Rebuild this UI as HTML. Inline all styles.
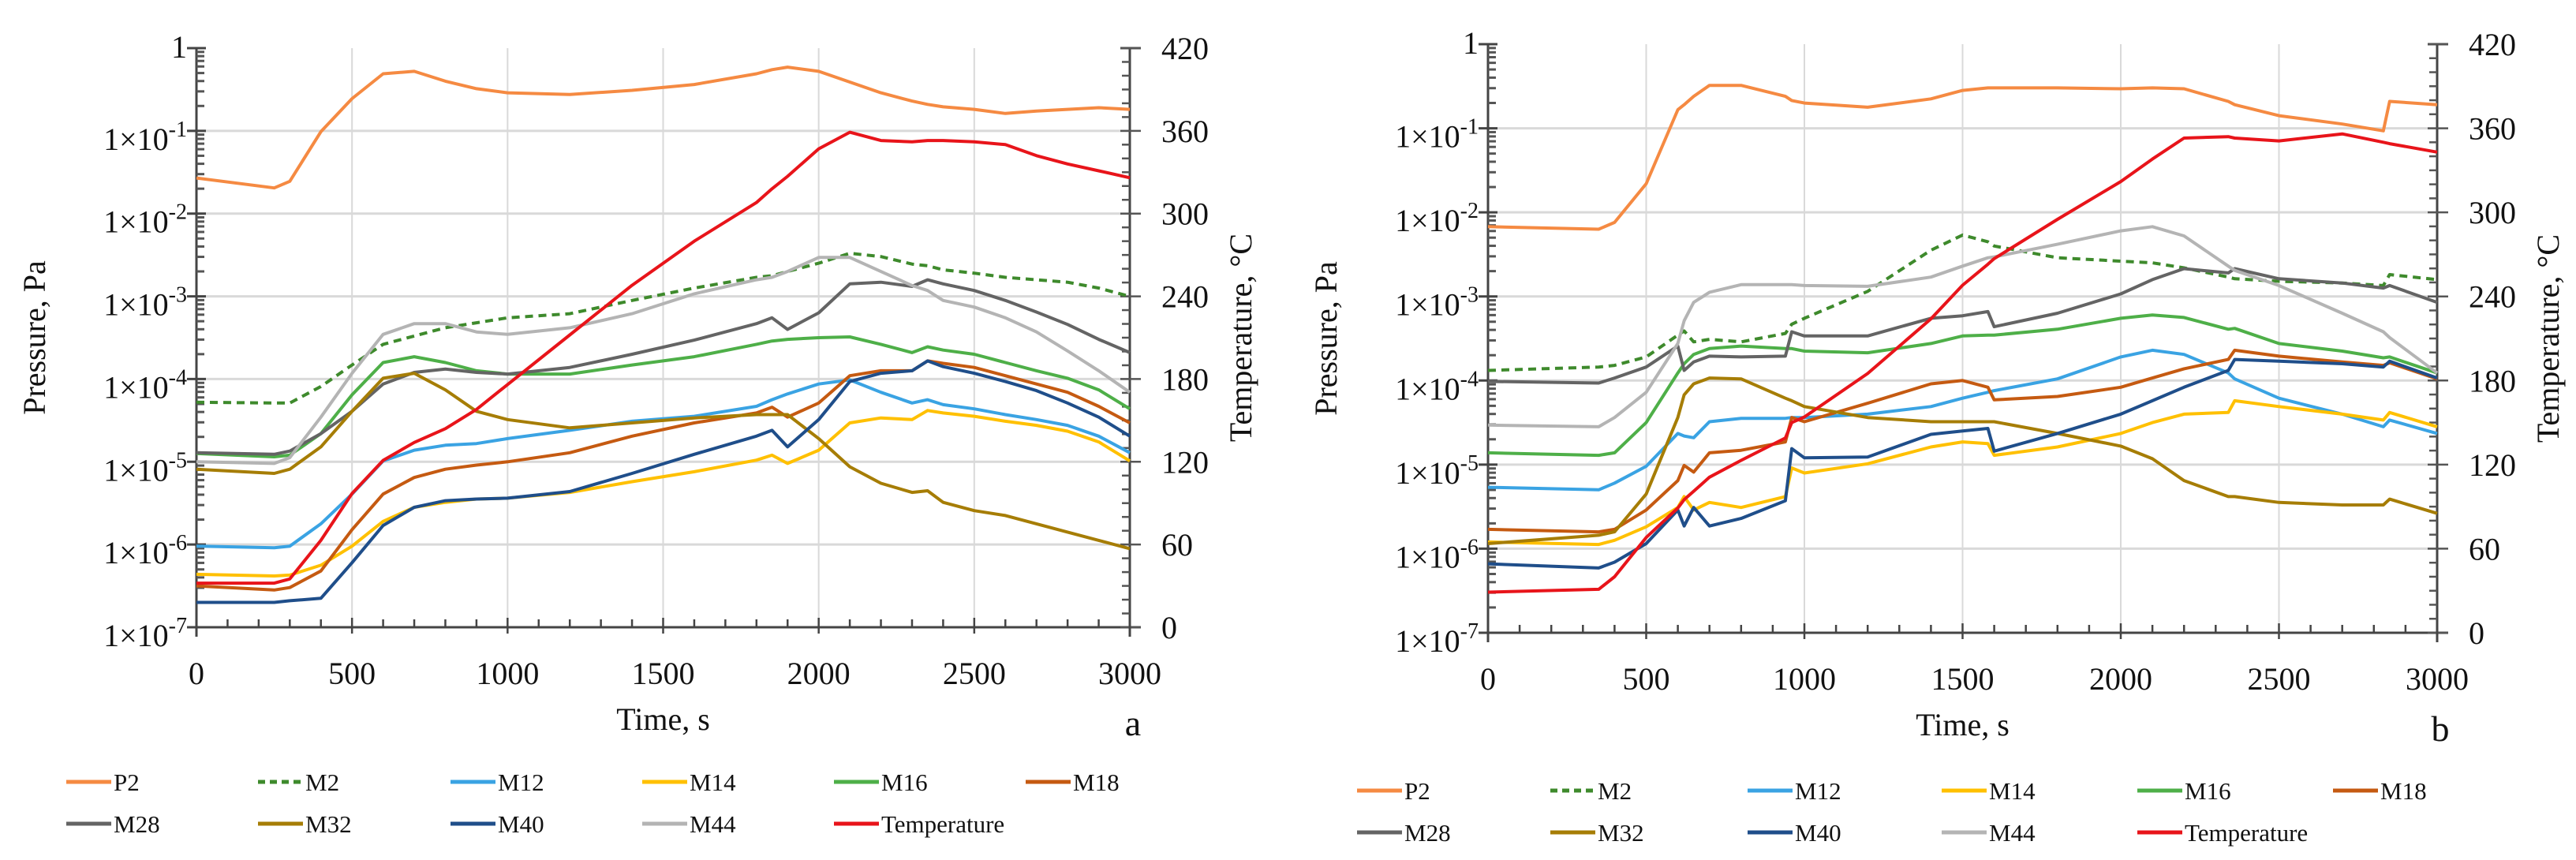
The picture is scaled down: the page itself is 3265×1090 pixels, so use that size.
<!DOCTYPE html>
<html><head><meta charset="utf-8"><style>
html,body{margin:0;padding:0;background:#fff;}
svg{display:block;font-family:"Liberation Serif",serif;}
</style></head><body>
<svg id="chart" width="3265" height="1090" viewBox="0 0 3265 1090" xmlns="http://www.w3.org/2000/svg"></svg>
<script>
// ---------- data: panel a ----------
const timeA = [0,250,300,400,500,600,700,800,900,1000,1200,1400,1600,1800,1850,1900,2000,2100,2200,2300,2350,2400,2500,2600,2700,2800,2900,3000];
const a_P2  = [-1.57,-1.69,-1.61,-1.01,-0.61,-0.31,-0.28,-0.40,-0.49,-0.54,-0.56,-0.51,-0.44,-0.31,-0.26,-0.23,-0.28,-0.41,-0.54,-0.64,-0.68,-0.71,-0.74,-0.79,-0.76,-0.74,-0.72,-0.74];
const a_M2  = [-4.28,-4.29,-4.29,-4.09,-3.83,-3.58,-3.48,-3.38,-3.32,-3.26,-3.21,-3.05,-2.90,-2.77,-2.75,-2.70,-2.60,-2.48,-2.52,-2.61,-2.63,-2.68,-2.72,-2.77,-2.80,-2.83,-2.90,-3.00];
const a_M12 = [-6.02,-6.04,-6.02,-5.75,-5.39,-4.99,-4.86,-4.80,-4.78,-4.72,-4.62,-4.51,-4.45,-4.33,-4.25,-4.18,-4.06,-4.01,-4.16,-4.29,-4.25,-4.31,-4.36,-4.43,-4.49,-4.56,-4.69,-4.89];
const a_M14 = [-6.36,-6.38,-6.37,-6.25,-6.02,-5.72,-5.55,-5.49,-5.45,-5.44,-5.37,-5.24,-5.12,-4.98,-4.92,-5.02,-4.86,-4.53,-4.47,-4.49,-4.38,-4.41,-4.45,-4.51,-4.56,-4.63,-4.76,-4.99];
const a_M16 = [-4.90,-4.94,-4.92,-4.66,-4.19,-3.80,-3.73,-3.80,-3.90,-3.94,-3.94,-3.83,-3.73,-3.58,-3.54,-3.52,-3.50,-3.49,-3.58,-3.68,-3.61,-3.65,-3.70,-3.80,-3.90,-3.99,-4.13,-4.36];
const a_M18 = [-6.50,-6.55,-6.52,-6.32,-5.82,-5.39,-5.19,-5.09,-5.04,-5.00,-4.89,-4.69,-4.53,-4.41,-4.34,-4.46,-4.29,-3.96,-3.90,-3.90,-3.78,-3.81,-3.86,-3.96,-4.06,-4.16,-4.33,-4.53];
const a_M28 = [-4.89,-4.91,-4.87,-4.66,-4.39,-4.06,-3.92,-3.88,-3.92,-3.94,-3.86,-3.70,-3.53,-3.33,-3.26,-3.40,-3.20,-2.85,-2.83,-2.88,-2.80,-2.85,-2.93,-3.05,-3.19,-3.34,-3.52,-3.68];
const a_M32 = [-5.09,-5.14,-5.09,-4.82,-4.39,-3.99,-3.93,-4.13,-4.39,-4.49,-4.59,-4.53,-4.47,-4.43,-4.43,-4.43,-4.72,-5.06,-5.26,-5.37,-5.35,-5.49,-5.59,-5.65,-5.75,-5.85,-5.95,-6.05];
const a_M40 = [-6.70,-6.70,-6.68,-6.65,-6.22,-5.77,-5.55,-5.47,-5.45,-5.44,-5.36,-5.14,-4.91,-4.69,-4.62,-4.82,-4.49,-4.03,-3.93,-3.90,-3.78,-3.85,-3.93,-4.03,-4.14,-4.29,-4.46,-4.69];
const a_M44 = [-5.00,-5.02,-4.95,-4.46,-3.93,-3.46,-3.33,-3.33,-3.43,-3.46,-3.38,-3.21,-2.97,-2.80,-2.77,-2.70,-2.53,-2.53,-2.70,-2.87,-2.93,-3.05,-3.13,-3.26,-3.43,-3.66,-3.90,-4.16];
const a_Temp= [32,32,35,63,97,121,134,144,158,176,212,248,280,308,318,327,347,359,353,352,353,353,352,350,342,336,331,326];
// ---------- data: panel b ----------
const timeB = [0,350,400,500,600,620,650,700,800,940,960,1000,1200,1400,1500,1580,1600,1800,2000,2100,2200,2340,2360,2500,2700,2830,2850,3000];
const b_P2  = [-2.17,-2.20,-2.12,-1.66,-0.78,-0.72,-0.62,-0.49,-0.49,-0.62,-0.67,-0.70,-0.75,-0.65,-0.55,-0.52,-0.52,-0.52,-0.53,-0.52,-0.53,-0.68,-0.72,-0.85,-0.95,-1.03,-0.68,-0.72];
const b_M2  = [-3.88,-3.84,-3.82,-3.72,-3.46,-3.41,-3.54,-3.51,-3.54,-3.44,-3.33,-3.26,-2.94,-2.45,-2.27,-2.35,-2.40,-2.54,-2.58,-2.60,-2.66,-2.77,-2.79,-2.82,-2.84,-2.87,-2.74,-2.80];
const b_M12 = [-5.27,-5.30,-5.22,-5.02,-4.63,-4.66,-4.68,-4.49,-4.45,-4.45,-4.44,-4.44,-4.40,-4.31,-4.21,-4.14,-4.12,-3.98,-3.72,-3.64,-3.69,-3.91,-3.98,-4.21,-4.40,-4.55,-4.47,-4.63];
const b_M14 = [-5.92,-5.95,-5.90,-5.74,-5.51,-5.38,-5.54,-5.45,-5.51,-5.38,-5.04,-5.10,-4.99,-4.79,-4.73,-4.75,-4.89,-4.79,-4.63,-4.50,-4.40,-4.38,-4.24,-4.31,-4.40,-4.47,-4.38,-4.55];
const b_M16 = [-4.86,-4.89,-4.86,-4.50,-3.91,-3.80,-3.69,-3.62,-3.59,-3.62,-3.62,-3.65,-3.67,-3.56,-3.47,-3.46,-3.46,-3.39,-3.26,-3.22,-3.25,-3.39,-3.38,-3.56,-3.65,-3.73,-3.72,-3.91];
const b_M18 = [-5.77,-5.80,-5.77,-5.54,-5.19,-5.01,-5.09,-4.86,-4.83,-4.73,-4.44,-4.49,-4.27,-4.04,-4.00,-4.08,-4.23,-4.19,-4.08,-3.97,-3.86,-3.75,-3.64,-3.71,-3.78,-3.82,-3.79,-3.98];
const b_M28 = [-4.01,-4.03,-3.97,-3.84,-3.59,-3.88,-3.78,-3.71,-3.72,-3.71,-3.42,-3.47,-3.47,-3.26,-3.23,-3.18,-3.36,-3.20,-2.97,-2.80,-2.67,-2.72,-2.67,-2.79,-2.84,-2.90,-2.87,-3.07];
const b_M32 = [-5.94,-5.84,-5.80,-5.35,-4.44,-4.17,-4.04,-3.97,-3.98,-4.21,-4.24,-4.31,-4.44,-4.49,-4.49,-4.49,-4.49,-4.63,-4.78,-4.93,-5.19,-5.38,-5.38,-5.45,-5.48,-5.48,-5.41,-5.58];
const b_M40 = [-6.18,-6.23,-6.16,-5.94,-5.54,-5.73,-5.51,-5.73,-5.64,-5.43,-4.81,-4.92,-4.91,-4.64,-4.60,-4.57,-4.84,-4.63,-4.40,-4.24,-4.08,-3.88,-3.75,-3.77,-3.80,-3.84,-3.77,-3.97];
const b_M44 = [-4.53,-4.55,-4.44,-4.14,-3.56,-3.29,-3.07,-2.95,-2.86,-2.86,-2.86,-2.87,-2.88,-2.77,-2.64,-2.54,-2.53,-2.38,-2.22,-2.17,-2.28,-2.64,-2.69,-2.87,-3.20,-3.42,-3.49,-3.91];
const b_Temp= [29,31,40,68,89,95,101,111,123,139,150,154,185,224,248,263,267,295,322,338,353,354,353,351,356,350,349,343];
// ---------- axis ticks ----------
const xTicks = [0,500,1000,1500,2000,2500,3000];
const yExps = [0,-1,-2,-3,-4,-5,-6,-7];
const tempTicks = [0,60,120,180,240,300,360,420];
const seriesNames = ["P2","M2","M12","M14","M16","M18","M28","M32","M40","M44","Temperature"];

const colors = {P2:"#F58A42",M2:"#3E8A2C",M12:"#3AA3E3",M14:"#FFC000",M16:"#4EAF48",M18:"#C55A11",M28:"#646464",M32:"#A67D05",M40:"#1F4E8A",M44:"#B4B4B4",Temperature:"#E8141A"};
const NS="http://www.w3.org/2000/svg";
const svg=document.getElementById('chart');
function mk(tag,attrs,parent){const e=document.createElementNS(NS,tag);for(const k in attrs)e.setAttribute(k,attrs[k]);(parent||svg).appendChild(e);return e;}

function drawPanel(p){
  const g=mk('g',{});
  
  
  const X=t=>p.L+(p.R-p.L)*t/3000;
  const Y=e=>p.T+(p.B-p.T)*(0-e)/7;
  const YT=d=>p.B-(p.B-p.T)*d/420;
  xTicks.forEach(t=>{ if(t>0&&t<3000){const l=mk('line',{x1:X(t),x2:X(t),y1:p.T,y2:p.B,stroke:'#d9d9d9','stroke-width':2},g);
    
    }});
  yExps.forEach(e=>{ if(e<0&&e>-7){const l=mk('line',{x1:p.L,x2:p.R,y1:Y(e),y2:Y(e),stroke:'#d9d9d9','stroke-width':3},g);
    
    }});
  mk('line',{x1:p.L,x2:p.L,y1:p.T,y2:p.B+12,stroke:'#444','stroke-width':3},g);
  mk('line',{x1:p.R,x2:p.R,y1:p.T,y2:p.B+12,stroke:'#444','stroke-width':3},g);
  mk('line',{x1:p.L-12,x2:p.R+14,y1:p.B,y2:p.B,stroke:'#444','stroke-width':3},g);
  mk('line',{x1:p.L-12,x2:p.L+12,y1:p.T,y2:p.T,stroke:'#444','stroke-width':3},g);
  mk('line',{x1:p.R-12,x2:p.R+14,y1:p.T,y2:p.T,stroke:'#444','stroke-width':3},g);
  for(let e=0;e>-7;e--){ for(let m=2;m<=9;m++){const y=Y(e-1+Math.log10(m)); mk('line',{x1:p.L,x2:p.L+10,y1:y,y2:y,stroke:'#555','stroke-width':3},g);} 
    const y=Y(e); mk('line',{x1:p.L-12,x2:p.L+12,y1:y,y2:y,stroke:'#444','stroke-width':3},g);}
  for(let d=0;d<=420;d+=10){const y=YT(d); const maj=d%60===0; mk('line',{x1:p.R-(maj?12:10),x2:p.R+(maj?14:0),y1:y,y2:y,stroke:'#555','stroke-width':2.5},g);}
  for(let t=0;t<=3000;t+=100){const x=X(t); mk('line',{x1:x,x2:x,y1:p.B-(t%500===0?12:10),y2:p.B+(t%500===0?8:0),stroke:'#444','stroke-width':2.5},g);}
  xTicks.forEach(t=>{const tx=mk('text',{x:X(t),y:p.B+72,'font-size':40,'text-anchor':'middle',fill:'#111'},g);tx.textContent=t;
    
    });
  yExps.forEach(e=>{const tx=mk('text',{x:p.L-12,y:Y(e)+24,'font-size':40,'text-anchor':'end',fill:'#111'},g);
    
    
    if(e===0){tx.setAttribute('y',Y(e)+12);tx.textContent='1';}
    else{tx.textContent='1×10';const s=mk('tspan',{'font-size':28,dy:-17},tx);s.textContent=String(e);} });
  tempTicks.forEach(d=>{const tx=mk('text',{x:p.R+40,y:YT(d)+14,'font-size':40,fill:'#111'},g);tx.textContent=d;
    
    });
  const yt=mk('text',{x:0,y:0,'font-size':40,'text-anchor':'middle',fill:'#111',transform:`translate(${p.L-192},${(p.T+p.B)/2}) rotate(-90)`},g);yt.textContent='Pressure, Pa';
  
  
  const yt2=mk('text',{x:0,y:0,'font-size':40,'text-anchor':'middle',fill:'#111',transform:`translate(${p.R+154},${(p.T+p.B)/2}) rotate(-90)`},g);yt2.textContent='Temperature, °C';
  
  
  const xt=mk('text',{x:(p.L+p.R)/2,y:p.B+130,'font-size':40,'text-anchor':'middle',fill:'#111'},g);xt.textContent='Time, s';
  
  
  const lt=mk('text',{x:p.R+4,y:p.B+137,'font-size':46,'text-anchor':'middle',fill:'#111'},g);lt.textContent=p.id;
  
  
  seriesNames.forEach(n=>{
    const vals=p.data[n]; const isT=n==='Temperature';
    const d=vals.map((v,i)=>(i?'L':'M')+X(p.time[i]).toFixed(1)+','+(isT?YT(v):Y(v)).toFixed(1)).join(' ');
    const path=mk('path',{d:d,fill:'none',stroke:colors[n],'stroke-width':4,'stroke-linejoin':'round'},g);
    if(n==='M2')path.setAttribute('stroke-dasharray','10,7');
    
    
  });
  seriesNames.forEach((n,i)=>{
    const col=i%6,row=Math.floor(i/6);
    const x=p.legX[col],y=p.legY[row];
    const lg=mk('g',{},g);
    
    
    const ln=mk('line',{x1:x,x2:x+57,y1:y,y2:y,stroke:colors[n],'stroke-width':5},lg);
    if(n==='M2')ln.setAttribute('stroke-dasharray','9,6');
    const tx=mk('text',{x:x+60,y:y+11,'font-size':31,fill:'#111'},lg);tx.textContent=n;
  });
}
drawPanel({id:'a',L:249,R:1432,T:61,B:795,time:timeA,
  data:{P2:a_P2,M2:a_M2,M12:a_M12,M14:a_M14,M16:a_M16,M18:a_M18,M28:a_M28,M32:a_M32,M40:a_M40,M44:a_M44,Temperature:a_Temp},
  legX:[84,327,571,814,1057,1300],legY:[991,1044]});
drawPanel({id:'b',L:1886,R:3089,T:56,B:802,time:timeB,
  data:{P2:b_P2,M2:b_M2,M12:b_M12,M14:b_M14,M16:b_M16,M18:b_M18,M28:b_M28,M32:b_M32,M40:b_M40,M44:b_M44,Temperature:b_Temp},
  legX:[1720,1965,2215,2461,2709,2957],legY:[1002,1055]});
</script>
</body></html>
